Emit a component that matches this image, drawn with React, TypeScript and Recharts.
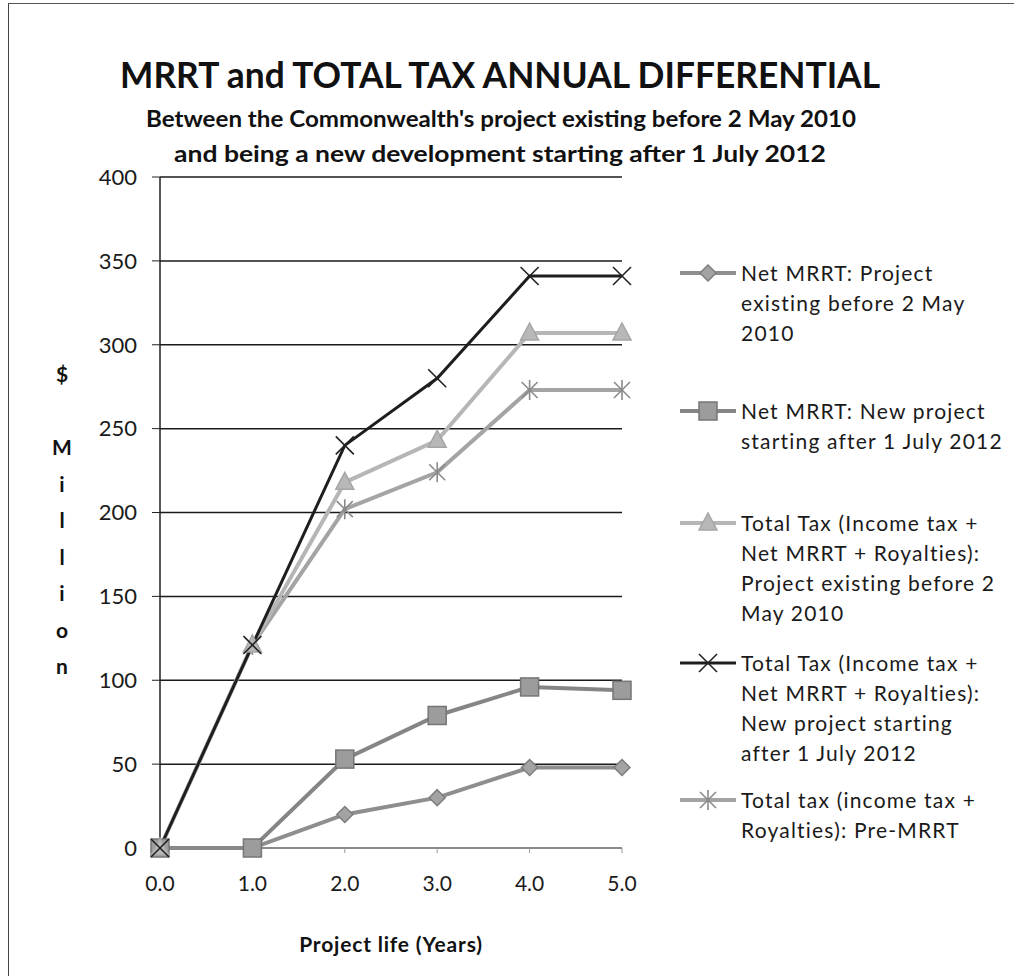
import React from 'react';
import { LineChart, Line, XAxis, YAxis, CartesianGrid } from 'recharts';

const YEARS = [0, 1, 2, 3, 4, 5];
const Y_TICKS = [0, 50, 100, 150, 200, 250, 300, 350, 400];

// $ million
const NET_MRRT_EXISTING = [0, 0, 20, 30, 48, 48];
const NET_MRRT_NEW = [0, 0, 53, 79, 96, 94];
const TOTAL_TAX_EXISTING = [0, 121, 218, 243, 307, 307];
const TOTAL_TAX_NEW = [0, 121, 240, 280, 341, 341];
const TOTAL_TAX_PRE_MRRT = [0, 121, 202, 224, 273, 273];

const TITLE = 'MRRT and TOTAL TAX ANNUAL DIFFERENTIAL';
const SUBTITLE_1 = "Between the Commonwealth's project existing before 2 May 2010";
const SUBTITLE_2 = 'and being a new development starting after 1 July 2012';
const X_TITLE = 'Project life (Years)';
const Y_TITLE = ['$', '', 'M', 'i', 'l', 'l', 'i', 'o', 'n'];

type Shape = 'diamond' | 'square' | 'triangle' | 'x' | 'star';

interface Series {
  key: string;
  name: string;
  values: number[];
  color: string;
  width: number;
  shape: Shape;
  fill: string;
  edge: string;
}

// legend order (as in the original)
const SERIES: Series[] = [
  {
    key: 'netExisting',
    name: 'Net MRRT:  Project\nexisting before 2 May\n2010',
    values: NET_MRRT_EXISTING,
    color: '#8e8e8e',
    width: 4,
    shape: 'diamond',
    fill: '#a3a3a3',
    edge: '#7d7d7d',
  },
  {
    key: 'netNew',
    name: 'Net MRRT:  New project\nstarting after 1 July 2012',
    values: NET_MRRT_NEW,
    color: '#858585',
    width: 4,
    shape: 'square',
    fill: '#9c9c9c',
    edge: '#767676',
  },
  {
    key: 'totalExisting',
    name: 'Total Tax (Income  tax +\nNet MRRT + Royalties):\nProject existing before 2\nMay 2010',
    values: TOTAL_TAX_EXISTING,
    color: '#b6b6b6',
    width: 4,
    shape: 'triangle',
    fill: '#b8b8b8',
    edge: '#a5a5a5',
  },
  {
    key: 'totalNew',
    name: 'Total Tax (Income  tax +\nNet MRRT + Royalties):\nNew project starting\nafter 1 July 2012',
    values: TOTAL_TAX_NEW,
    color: '#1e1e1e',
    width: 3,
    shape: 'x',
    fill: 'none',
    edge: '#222222',
  },
  {
    key: 'preMrrt',
    name: 'Total tax (income tax +\nRoyalties): Pre-MRRT',
    values: TOTAL_TAX_PRE_MRRT,
    color: '#a4a4a4',
    width: 4,
    shape: 'star',
    fill: 'none',
    edge: '#8a8a8a',
  },
];

// draw order: black series last so it sits on top
const DRAW_ORDER = ['netExisting', 'netNew', 'preMrrt', 'totalExisting', 'totalNew'];

// legend entry tops (px), Excel spaced them unevenly
const LEGEND_TOPS = [258, 396, 508, 648, 785];

const data = YEARS.map((year, i) => {
  const row: Record<string, number> = { year };
  SERIES.forEach((s) => {
    row[s.key] = s.values[i];
  });
  return row;
});

const FONT = 'Lato, "Open Sans", sans-serif';

function Marker({ cx, cy, s }: { cx: number; cy: number; s: Series }) {
  switch (s.shape) {
    case 'diamond':
      return (
        <polygon
          points={`${cx},${cy - 8} ${cx + 8},${cy} ${cx},${cy + 8} ${cx - 8},${cy}`}
          fill={s.fill}
          stroke={s.edge}
          strokeWidth={1.5}
        />
      );
    case 'square':
      return <rect x={cx - 9} y={cy - 9} width={18} height={18} fill={s.fill} stroke={s.edge} strokeWidth={1.5} />;
    case 'triangle':
      return (
        <polygon
          points={`${cx},${cy - 10} ${cx + 9},${cy + 7} ${cx - 9},${cy + 7}`}
          fill={s.fill}
          stroke={s.edge}
          strokeWidth={1.5}
        />
      );
    case 'x':
      return (
        <g stroke={s.edge} strokeWidth={1.6}>
          <line x1={cx - 9} y1={cy - 9} x2={cx + 9} y2={cy + 9} />
          <line x1={cx - 9} y1={cy + 9} x2={cx + 9} y2={cy - 9} />
        </g>
      );
    default:
      return (
        <g stroke={s.edge} strokeWidth={1.6}>
          <line x1={cx - 8} y1={cy - 8} x2={cx + 8} y2={cy + 8} />
          <line x1={cx - 8} y1={cy + 8} x2={cx + 8} y2={cy - 8} />
          <line x1={cx} y1={cy - 10} x2={cx} y2={cy + 10} />
        </g>
      );
  }
}

function LegendEntry({ s, top }: { s: Series; top: number }) {
  return (
    <div style={{ position: 'absolute', left: 678, top, display: 'flex', alignItems: 'flex-start' }}>
      <svg width={63} height={30} style={{ flexShrink: 0 }}>
        <line x1={2} y1={15} x2={58} y2={15} stroke={s.color} strokeWidth={s.width} />
        <Marker cx={30} cy={15} s={s} />
      </svg>
      <div
        style={{
          whiteSpace: 'pre-line',
          fontFamily: FONT,
          fontSize: 21,
          lineHeight: '30px',
          color: '#1a1a1a',
          letterSpacing: 1.2,
        }}
      >
        {s.name}
      </div>
    </div>
  );
}

export default function App() {
  const drawn = DRAW_ORDER.map((k) => SERIES.find((s) => s.key === k)!);
  return (
    <div style={{ position: 'absolute', left: 0, top: 0, width: 1021, height: 979, background: '#fff' }}>
      <div
        style={{
          position: 'absolute',
          left: 8,
          top: 3,
          width: 1005,
          height: 972,
          borderLeft: '1.5px solid #444',
          borderTop: '1.5px solid #555',
        }}
      />
      <svg width={1021} height={180} style={{ position: 'absolute', left: 0, top: 0 }}>
        <text x={120} y={88} textLength={760} lengthAdjust="spacingAndGlyphs" fontFamily={FONT} fontWeight={700} fontSize={36} fill="#111">
          {TITLE}
        </text>
        <text x={146} y={127} textLength={710} lengthAdjust="spacingAndGlyphs" fontFamily={FONT} fontWeight={700} fontSize={22} fill="#111">
          {SUBTITLE_1}
        </text>
        <text x={174} y={162} textLength={652} lengthAdjust="spacingAndGlyphs" fontFamily={FONT} fontWeight={700} fontSize={22} fill="#111">
          {SUBTITLE_2}
        </text>
      </svg>
      <LineChart
        width={1021}
        height={979}
        data={data}
        margin={{ top: 177, right: 399, bottom: 101, left: 90 }}
        style={{ position: 'absolute', left: 0, top: 0 }}
      >
        <CartesianGrid horizontal vertical={false} stroke="#1a1a1a" strokeWidth={1.5} />
        <XAxis
          dataKey="year"
          type="number"
          domain={[0, 5]}
          ticks={YEARS}
          tickFormatter={(v: number) => v.toFixed(1)}
          axisLine={{ stroke: '#8a8a8a', strokeWidth: 2 }}
          tickLine={{ stroke: '#999' }}
          tickSize={5}
          tickMargin={23}
          tick={{ fontSize: 21, fontFamily: FONT, fill: '#1a1a1a' }}
          height={30}
          label={{
            value: X_TITLE,
            position: 'insideBottom',
            offset: -74,
            fontSize: 21,
            fontWeight: 700,
            fontFamily: FONT,
            fill: '#111',
            letterSpacing: 0.8,
          }}
        />
        <YAxis
          type="number"
          domain={[0, 400]}
          ticks={Y_TICKS}
          axisLine={{ stroke: '#222', strokeWidth: 1.5 }}
          tickLine={{ stroke: '#222' }}
          tickSize={8}
          tickMargin={15}
          width={70}
          tick={{ fontSize: 22, fontFamily: FONT, fill: '#1a1a1a' }}
        />
        {drawn.map((s) => (
          <Line
            key={s.key}
            dataKey={s.key}
            name={s.name}
            type="linear"
            stroke={s.color}
            strokeWidth={s.width}
            isAnimationActive={false}
            dot={(p: any) => <Marker key={`${s.key}-${p.index}`} cx={p.cx} cy={p.cy} s={s} />}
            activeDot={false}
          />
        ))}
      </LineChart>
      <svg width={120} height={979} style={{ position: 'absolute', left: 0, top: 0 }}>
        {Y_TITLE.map((ch, i) => (
          <text
            key={i}
            x={62}
            y={382 + i * 36.5}
            textAnchor="middle"
            fontFamily={FONT}
            fontWeight={700}
            fontSize={21}
            fill="#111"
          >
            {ch}
          </text>
        ))}
      </svg>
      {SERIES.map((s, i) => (
        <LegendEntry key={s.key} s={s} top={LEGEND_TOPS[i]} />
      ))}
    </div>
  );
}
